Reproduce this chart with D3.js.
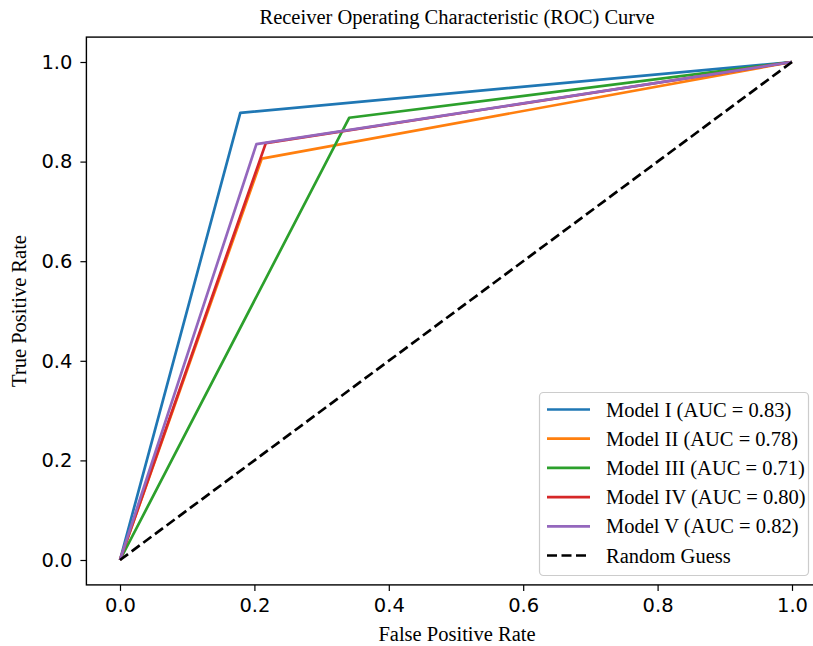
<!DOCTYPE html>
<html><head><meta charset="utf-8">
<script src="https://cdn.jsdelivr.net/npm/d3@7"></script>
<style>body{margin:0;background:#fff}svg{display:block}</style>
</head><body>
<script>
const models = ["Model I (AUC = 0.83)","Model II (AUC = 0.78)","Model III (AUC = 0.71)","Model IV (AUC = 0.80)","Model V (AUC = 0.82)"];
const colors = ["#1f77b4","#ff7f0e","#2ca02c","#d62728","#9467bd"];
const fprs = [[0,0.179,1],[0,0.211,1],[0,0.341,1],[0,0.217,1],[0,0.203,1]];
const tprs = [[0,0.898,1],[0,0.806,1],[0,0.888,1],[0,0.837,1],[0,0.835,1]];
const diagX = [0,1], diagY = [0,1];
const ticks = [0,0.2,0.4,0.6,0.8,1.0];

const W=813,H=646;
const svg=d3.select("body").append("svg").attr("width",W).attr("height",H);
const x=d3.scaleLinear().domain([-0.05,1.05]).range([86.4,825.6]);
const y=d3.scaleLinear().domain([-0.05,1.05]).range([584.9,37.1]);

const g=svg.append("g");
const line=d3.line().x(d=>x(d[0])).y(d=>y(d[1]));
models.forEach((m,i)=>{
  g.append("path").datum(fprs[i].map((v,j)=>[v,tprs[i][j]]))
   .attr("d",line).attr("fill","none").attr("stroke",colors[i]).attr("stroke-width",2.7).attr("stroke-linejoin","round");
});
g.append("path").datum(diagX.map((v,j)=>[v,diagY[j]])).attr("d",line).attr("fill","none")
 .attr("stroke","#000").attr("stroke-width",2.7).attr("stroke-dasharray","10,4.5");

// spines
svg.append("rect").attr("x",x(-0.05)).attr("y",y(1.05)).attr("width",x(1.05)-x(-0.05)).attr("height",y(-0.05)-y(1.05))
 .attr("fill","none").attr("stroke","#000").attr("stroke-width",1.4);

const xa=svg.append("g").attr("transform",`translate(0,${y(-0.05)})`)
 .call(d3.axisBottom(x).tickValues(ticks).tickFormat(d3.format(".1f")).tickSize(6).tickPadding(7));
const ya=svg.append("g").attr("transform",`translate(${x(-0.05)},0)`)
 .call(d3.axisLeft(y).tickValues(ticks).tickFormat(d3.format(".1f")).tickSize(6).tickPadding(8));
[xa,ya].forEach(a=>{a.select(".domain").remove();a.selectAll("line").attr("stroke","#000").attr("stroke-width",1.2);
 a.selectAll("text").attr("font-family","DejaVu Sans").attr("font-size",19.5).attr("fill","#000");});

const ff="Liberation Serif";
svg.append("text").attr("x",457).attr("y",24).attr("text-anchor","middle").attr("font-family",ff).attr("font-size",20.5).text("Receiver Operating Characteristic (ROC) Curve");
svg.append("text").attr("x",457).attr("y",641).attr("text-anchor","middle").attr("font-family",ff).attr("font-size",20.5).text("False Positive Rate");
svg.append("text").attr("transform","translate(26,311) rotate(-90)").attr("text-anchor","middle").attr("font-family",ff).attr("font-size",20.5).text("True Positive Rate");

// legend
const lg=svg.append("g");
lg.append("rect").attr("x",539.5).attr("y",392.5).attr("width",269).attr("height",183).attr("rx",4)
 .attr("fill","#fff").attr("fill-opacity",0.8).attr("stroke","#ccc").attr("stroke-width",1.2);
const labels=models.concat(["Random Guess"]);
labels.forEach((l,i)=>{
  const yy=409.5+i*29.2;
  lg.append("line").attr("x1",547).attr("x2",590).attr("y1",yy).attr("y2",yy)
   .attr("stroke",i<5?colors[i]:"#000").attr("stroke-width",2.7).attr("stroke-dasharray",i<5?null:"10,4.5");
  lg.append("text").attr("x",606).attr("y",yy+7).attr("font-family",ff).attr("font-size",20.5).text(l);
});
</script>
</body></html>
